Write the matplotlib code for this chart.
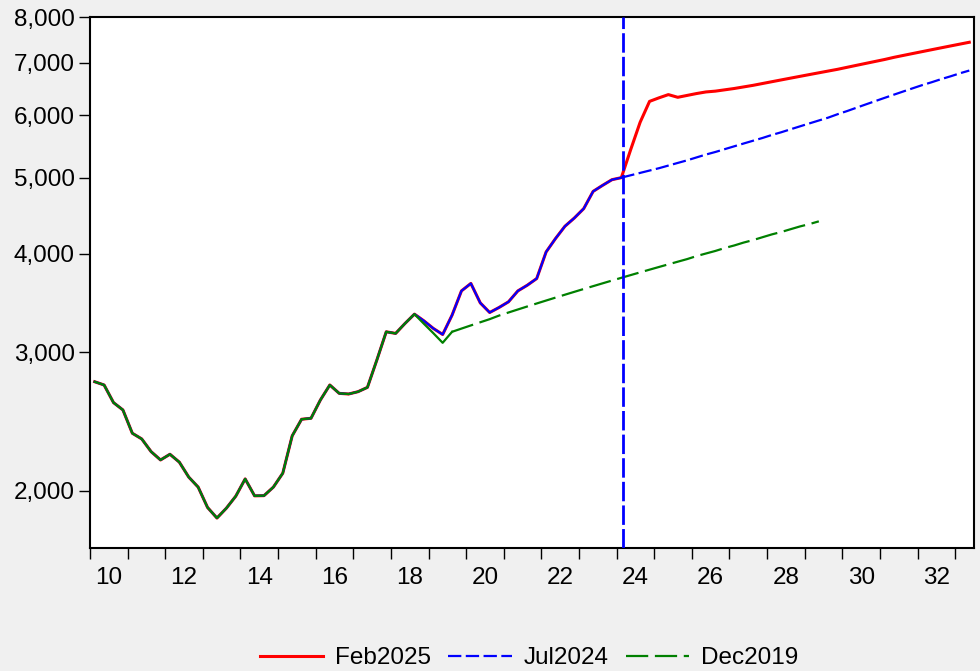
import matplotlib
matplotlib.use("Agg")
import matplotlib.pyplot as plt
from matplotlib.ticker import FixedLocator, NullLocator, FuncFormatter

plt.rcParams['font.family'] = ['Liberation Sans', 'DejaVu Sans']

# quarterly, starting 2010Q1
start_year = 2010

# history shared by all vintages, 2010Q1 - 2024Q1
history = [2752, 2726, 2589, 2534, 2367, 2328, 2243, 2189, 2226, 2175,
           2082, 2022, 1905, 1847, 1901, 1969, 2071, 1971, 1972, 2022,
           2106, 2349, 2466, 2473, 2609, 2726, 2660, 2655, 2673, 2707,
           2932, 3185, 3170, 3264, 3354, 3289, 3217, 3160, 3344, 3590,
           3669, 3466, 3370, 3420, 3477, 3590, 3650, 3722, 4023, 4184,
           4337, 4443, 4567, 4803, 4888, 4970, 5000]

# 2024Q2 - 2033Q2
feb2025_fcst = [5430, 5880, 6250, 6315, 6375, 6325, 6360, 6395, 6425, 6440,
                6465, 6490, 6520, 6550, 6585, 6620, 6655, 6690, 6725, 6760,
                6795, 6830, 6865, 6905, 6945, 6985, 7025, 7065, 7110, 7150,
                7190, 7230, 7270, 7310, 7350, 7390, 7430]

jul2024_fcst = [5035, 5070, 5105, 5140, 5180, 5220, 5260, 5305, 5350, 5390,
                5435, 5480, 5525, 5570, 5615, 5665, 5710, 5760, 5810, 5860,
                5910, 5960, 6020, 6075, 6135, 6195, 6255, 6315, 6375, 6435,
                6495, 6555, 6610, 6670, 6725, 6785, 6840]

# Dec2019 vintage: 2018Q4 - 2019Q3 data, then forecast 2019Q4 - 2029Q2
dec2019_tail = [3261, 3173, 3084, 3185]
dec2019_fcst = [3215, 3245, 3275, 3305, 3340, 3370, 3400, 3430, 3460, 3490,
                3520, 3550, 3580, 3610, 3640, 3670, 3700, 3730, 3760, 3790,
                3820, 3850, 3880, 3910, 3940, 3975, 4005, 4035, 4070, 4100,
                4135, 4165, 4200, 4235, 4265, 4300, 4335, 4365, 4400]

yticks = [2000, 3000, 4000, 5000, 6000, 7000, 8000]
year_labels = list(range(2010, 2034, 2))


def qx(n):
    # position of the n-th quarter (0-based) at the middle of the quarter
    return [start_year + (i + 0.5) / 4 for i in range(n)]


feb2025 = history + feb2025_fcst
jul2024 = history + jul2024_fcst
dec2019 = history[:35] + dec2019_tail + dec2019_fcst

x_feb = qx(len(feb2025))
x_jul = qx(len(jul2024))
x_dec = qx(len(dec2019))
nh = len(history)
nd = 35 + len(dec2019_tail)

fig = plt.figure(figsize=(9.8, 6.71), dpi=100, facecolor='#F0F0F0')
ax = fig.add_axes([90 / 980, 123 / 671, 884 / 980, 531 / 671])
ax.set_facecolor('white')

ax.plot(x_feb, feb2025, color='#FF0000', lw=2.2, label='Feb2025', zorder=3)
ax.plot(x_jul[:nh], jul2024[:nh], color='#0000FF', lw=1.6, zorder=4)
ax.plot(x_jul[nh - 1:], jul2024[nh - 1:], color='#0000FF', lw=1.6,
        dashes=(6, 2), label='Jul2024', zorder=4)
ax.plot(x_dec[:nd], dec2019[:nd], color='#008000', lw=1.6, zorder=5)
ax.plot(x_dec[nd - 1:], dec2019[nd - 1:], color='#008000', lw=1.6,
        dashes=(10, 3), label='Dec2019', zorder=5)

# vertical marker at last common observation
ax.axvline(x_jul[nh - 1] + 0.04, color='#0000FF', lw=2.0, dashes=(7, 1.5), zorder=6)

ax.set_yscale('log')
ax.set_ylim(1692, 8000)
ax.yaxis.set_major_locator(FixedLocator(yticks))
ax.yaxis.set_minor_locator(NullLocator())
ax.yaxis.set_major_formatter(FuncFormatter(lambda v, p: f"{int(v):,}"))

ax.set_xlim(2010, 2033.5)
ax.set_xticks(range(2010, 2034))
ax.set_xticklabels([])
ax.set_xticks([y + 0.5 for y in year_labels], minor=True)
ax.set_xticklabels([str(y % 100) for y in year_labels], minor=True)
ax.tick_params(axis='x', which='major', length=8, width=1, direction='out')
ax.tick_params(axis='x', which='minor', length=0, pad=14, labelsize=17.5)
ax.tick_params(axis='y', length=8, width=1, direction='out', labelsize=17.5,
               pad=3)

for s in ax.spines.values():
    s.set_linewidth(1.5)
    s.set_color('black')

fig.legend(loc='lower center', bbox_to_anchor=(0.54, -0.03), ncol=3,
           frameon=False, fontsize=17.5, handlelength=2.6, columnspacing=0.7,
           handletextpad=0.5)

fig.savefig('out.png', dpi=100, facecolor=fig.get_facecolor())
